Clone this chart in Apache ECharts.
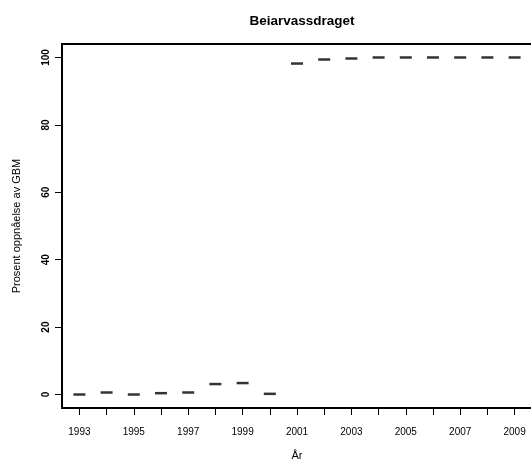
<!DOCTYPE html>
<html>
<head>
<meta charset="utf-8">
<script src="https://cdn.jsdelivr.net/npm/echarts@6/dist/echarts.min.js"></script>
<style>
  html, body { margin: 0; padding: 0; background: #fff; }
  #main { width: 531px; height: 462px; }
</style>
</head>
<body>
<div id="main"></div>
<script>
// år og prosent oppnåelse
var years = [1993, 1994, 1995, 1996, 1997, 1998, 1999, 2000, 2001, 2002, 2003, 2004, 2005, 2006, 2007, 2008, 2009];
var values = [0, 0.6, 0, 0.4, 0.6, 3.1, 3.4, 0.2, 98.2, 99.4, 99.7, 100, 100, 100, 100, 100, 100];
var xTickValues = years;
var xLabelValues = [1993, 1995, 1997, 1999, 2001, 2003, 2005, 2007, 2009];
var yTickValues = [0, 20, 40, 60, 80, 100];

var font = 'Liberation Sans, Arial, sans-serif';

var chart = echarts.init(document.getElementById('main'), null, { renderer: 'canvas' });

chart.setOption({
  animation: false,
  title: {
    text: 'Beiarvassdraget',
    left: 297,
    top: 9,
    textAlign: 'center',
    textStyle: { fontFamily: font, fontSize: 13.5, fontWeight: 'bold', color: '#000' }
  },
  grid: {
    left: 62,
    top: 44,
    width: 470,
    height: 364,
    outerBoundsMode: 'none',
    containLabel: false,
    show: true,
    borderColor: '#000',
    borderWidth: 2,
    backgroundColor: 'transparent'
  },
  xAxis: {
    type: 'value',
    min: 1992.36,
    max: 2009.64,
    name: 'År',
    nameLocation: 'middle',
    nameGap: 42,
    nameTextStyle: { fontFamily: font, fontSize: 11, color: '#000' },
    axisLine: { show: false, onZero: false },
    splitLine: { show: false },
    axisTick: {
      show: true, length: 7, inside: false,
      customValues: xTickValues,
      lineStyle: { color: '#000', width: 1 }
    },
    axisLabel: {
      customValues: xLabelValues,
      margin: 19,
      formatter: function (v) { return String(v); },
      fontFamily: font, fontSize: 10, color: '#000'
    }
  },
  yAxis: {
    type: 'value',
    min: -4,
    max: 104,
    name: 'Prosent oppnåelse av GBM',
    nameLocation: 'middle',
    nameGap: 40,
    nameRotate: 90,
    nameTextStyle: { fontFamily: font, fontSize: 11, color: '#000' },
    axisLine: { show: false, onZero: false },
    splitLine: { show: false },
    axisTick: {
      show: true, length: 7, inside: false,
      customValues: yTickValues,
      lineStyle: { color: '#000', width: 1 }
    },
    axisLabel: {
      customValues: yTickValues,
      rotate: 90,
      margin: 11,
      fontFamily: font, fontSize: 10, fontWeight: 'bold', color: '#000'
    }
  },
  series: [{
    type: 'scatter',
    data: years.map(function (y, i) { return [y, values[i]]; }),
    symbol: 'rect',
    symbolSize: [12, 2.5],
    itemStyle: { color: '#000' }
  }]
});
</script>
</body>
</html>
